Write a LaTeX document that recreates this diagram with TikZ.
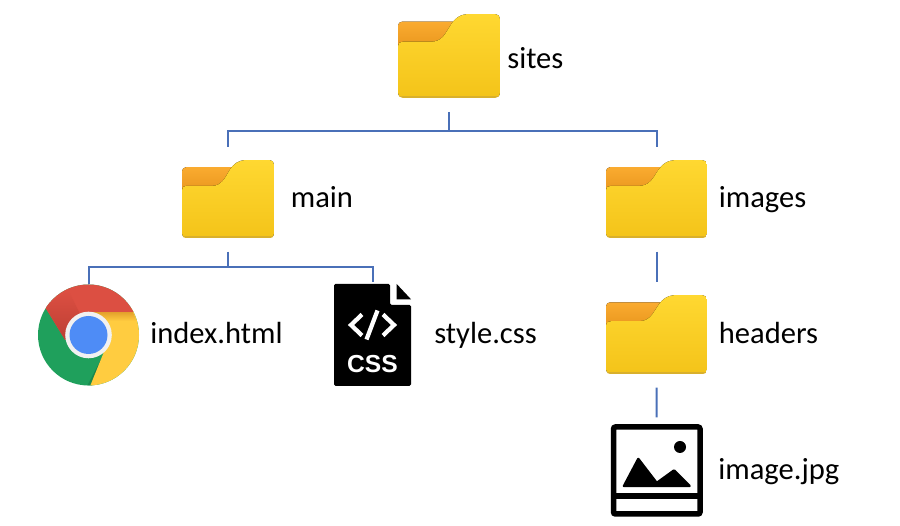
\documentclass[tikz,border=0pt]{standalone}
\usepackage{fontspec}
\setmainfont{Carlito}
\newfontfamily\cssfont{Liberation Sans}
\definecolor{treeblue}{HTML}{4A70B8}
\definecolor{foldertop}{HTML}{FFD831}
\definecolor{folderbot}{HTML}{F4C41A}
\definecolor{folderrim}{HTML}{D9B02C}
\definecolor{tabtop}{HTML}{FAAB30}
\definecolor{tabbot}{HTML}{E8951C}
\definecolor{chromered}{HTML}{DC4F42}
\definecolor{chromedark}{HTML}{BC3F33}
\definecolor{chromegreen}{HTML}{1FA05C}
\definecolor{chromeshade}{HTML}{14703F}
\definecolor{chromeyellow}{HTML}{FFCC40}
\definecolor{chromeamber}{HTML}{E3A02C}
\definecolor{chromeblue}{HTML}{4E8CF6}
\definecolor{chromering}{HTML}{F1F1F1}
\tikzset{
	iconbox/.style = {rectangle, inner sep=0pt, outer sep=0pt},
	filelabel/.style = {anchor=base west, inner sep=0pt, font=\fontsize{17.4}{20}\selectfont},
	treeline/.style = {draw=treeblue, line width=0.04cm},
	cssmark/.style = {text=white, inner sep=0pt, font=\cssfont\bfseries\fontsize{14}{16}\selectfont},
	codemark/.style = {draw=white, line width=0.085cm},
	folder/.pic = {
		\fill[top color=tabtop, bottom color=tabbot, rounded corners=0.08cm] (0,7.7) rectangle (64,36);
		\begin{scope}
			\clip (0,32) .. controls (0,29) and (2,27.7) .. (5,27.7) -- (33,27.7)
				.. controls (44,27.7) and (47,20) .. (52,12) .. controls (57,4) and (62,0) .. (72,0)
				-- (97,0) .. controls (100,0) and (102,2) .. (102,5) -- (102,79)
				.. controls (102,82) and (100,84) .. (97,84) -- (5,84)
				.. controls (2,84) and (0,82) .. (0,79) -- cycle;
			\fill[top color=foldertop, bottom color=folderbot] (0,0) rectangle (102,81.5);
			\fill[folderrim] (0,81.5) rectangle (102,84);
		\end{scope}
	}
}
\begin{document}
\begin{tikzpicture}[x=0.02cm,y=-0.02cm]
	\useasboundingbox (0,0) rectangle (900,526);
	% folders
	\node[iconbox, minimum width=2.04cm, minimum height=1.68cm] at (449,56) (sites) {};
	\node[iconbox, minimum width=1.84cm, minimum height=1.566cm] at (228,199.2) (main) {};
	\node[iconbox, minimum width=2.02cm, minimum height=1.566cm] at (656.5,199.2) (images) {};
	\node[iconbox, minimum width=2.02cm, minimum height=1.586cm] at (656.5,334.7) (headers) {};
	\pic at (sites.north west) {folder};
	\pic[xscale=0.902, yscale=0.932] at (main.north west) {folder};
	\pic[xscale=0.99, yscale=0.932] at (images.north west) {folder};
	\pic[xscale=0.99, yscale=0.944] at (headers.north west) {folder};
	% files
	\node[iconbox, minimum width=2.02cm, minimum height=2.04cm] at (88.5,335) (index) {};
	\node[iconbox, minimum width=1.54cm, minimum height=2.04cm] at (372.5,335) (style) {};
	\node[iconbox, minimum width=1.84cm, minimum height=1.85cm] at (656.7,470.5) (image) {};
	% index.html
	\begin{scope}[shift={(index.center)}, y=0.02cm]
		\clip (0,0) circle (50.5);
		\fill[chromegreen] (-60,-60) rectangle (60,60);
		\shade[left color=chromegreen, right color=chromeshade] (-14,-60) -- (-2,-52) -- (16,-18) -- (20,-18) -- (-1.7,-60) -- cycle;
		\fill[chromeyellow] (50,28) -- (60,60) -- (60,-60) -- (-2,-60) -- (15,-18) -- (0,0) -- (0,23) -- cycle;
		\shade[top color=chromeamber, bottom color=chromeyellow] (0,23) -- (44.4,23) -- (48,14) -- (10,14) -- cycle;
		\fill[chromered] (-42.8,26.8) -- (-23.3,-5) -- (0,0) -- (0,23) -- (60,23) -- (60,60) -- (-60,60) -- (-60,26.8) -- cycle;
		\shade[top color=chromered, bottom color=chromedark] (-44,29) -- (-23.3,-5) -- (-8,20) -- (-20,44) -- cycle;
		\fill[chromering] (0,0) circle (23.3);
		\fill[chromeblue] (0,0) circle (19);
	\end{scope}
	% style.css
	\fill[black, rounded corners=0.03cm] (334,284) -- (390,284) -- (390,305) -- (411,305) -- (411,386) -- (334,386) -- cycle;
	\fill[black] (396.7,284) -- (411,299.3) -- (396.7,299.3) -- cycle;
	\draw[codemark] (362,314.5) -- (351,325) -- (362,335.5);
	\draw[codemark] (377.5,310.5) -- (366.5,339.5);
	\draw[codemark] (383,314.5) -- (394,325) -- (383,335.5);
	\node[cssmark] at (372.5,364) (csstxt) {CSS};
	% image.jpg
	\draw[line width=0.11cm, rounded corners=0.04cm] (613.5,427) rectangle (700,514);
	\draw[line width=0.11cm] (613.5,496) -- (700,496);
	\fill[black] (680,447) circle (6);
	\fill[black, draw=black, line width=0.05cm, line join=round] (624,486) -- (638.3,459) -- (656.7,483) -- (674,470.5) -- (689.5,486) -- cycle;
	% labels
	\node[filelabel] at (507,69) (sitestxt) {sites};
	\node[filelabel] at (290.5,208) (maintxt) {main};
	\node[filelabel] at (718.5,208) (imagestxt) {images};
	\node[filelabel] at (718.5,344) (headerstxt) {headers};
	\node[filelabel] at (150,344) (indextxt) {index.html};
	\node[filelabel] at (434,344) (styletxt) {style.css};
	\node[filelabel] at (718,480) (imagetxt) {image.jpg};
	% tree lines
	\coordinate (sitesbus) at (449,131);
	\coordinate (mainbus) at (228,267);
	\draw[treeline, shorten <=0.28cm] (sites.south) -- (sitesbus);
	\draw[treeline, shorten >=0.266cm] (sitesbus) -| (main.north);
	\draw[treeline, shorten >=0.266cm] (sitesbus) -| (images.north);
	\draw[treeline, shorten <=0.266cm] (main.south) -- (mainbus);
	\draw[treeline] (mainbus) -| (index.north);
	\draw[treeline, shorten >=0.05cm] (mainbus) -| (style.north);
	\draw[treeline, shorten <=0.266cm, shorten >=0.27cm] (images.south) -- (headers.north);
	\draw[treeline, shorten <=0.266cm, shorten >=0.14cm] (headers.south) -- (image.north);
\end{tikzpicture}
\end{document}
